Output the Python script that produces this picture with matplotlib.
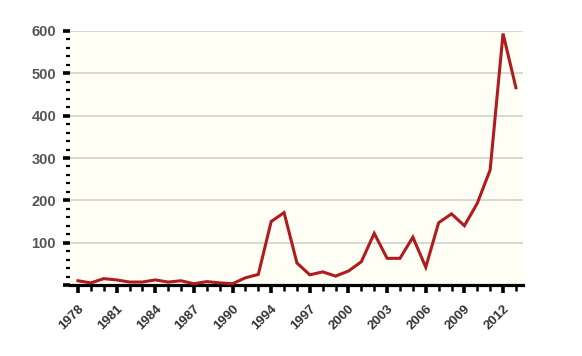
import numpy as np
import matplotlib
matplotlib.use("Agg")
import matplotlib.pyplot as plt
from matplotlib.ticker import MultipleLocator

# years shown on the chart (1991 is absent from the series)
years = list(range(1978, 1991)) + list(range(1992, 2014))
values = [10, 5, 15, 12, 7, 7, 12, 7, 10, 3, 8, 5, 3,
          17, 25, 150, 171, 52, 24, 31, 21, 33, 55, 122,
          63, 63, 113, 42, 147, 168, 140, 193, 272, 594, 466]
y_ticks = [100, 200, 300, 400, 500, 600]

x = np.arange(len(years))

plt.rcParams["font.family"] = ["Liberation Sans", "DejaVu Sans"]

fig = plt.figure(figsize=(5.82, 3.56), dpi=100)
ax = fig.add_axes([70 / 582, 1 - 285 / 356, (523 - 70) / 582, (285 - 31) / 356])
ax.set_facecolor("#fffff6")

for t in y_ticks:
    ax.axhline(t, color="#d6d6d0", lw=1.3, zorder=1)

ax.plot(x, values, color="#b01c1e", lw=2.2, solid_joinstyle="miter", zorder=3)

ax.set_xlim(-0.62, len(years) - 1 + 0.55)
ax.set_ylim(0, 600)

# x axis: every year a tick, every third labelled
ax.set_xticks(x[::3])
ax.set_xticklabels([str(years[i]) for i in x[::3]], rotation=45, ha="right",
                   rotation_mode="anchor", fontsize=9.5, fontweight="bold",
                   color="#333333")
ax.set_xticks(x, minor=True)
ax.tick_params(axis="x", which="major", length=6, width=2.6, color="black", pad=7)
ax.tick_params(axis="x", which="minor", length=4, width=1.8, color="black")

# y axis
ax.set_yticks([0] + y_ticks)
ax.set_yticklabels([""] + [str(t) for t in y_ticks], fontsize=10.5,
                   fontweight="bold", color="#555555")
ax.yaxis.set_minor_locator(MultipleLocator(20))
ax.tick_params(axis="y", which="major", length=5, width=2.6, color="black", pad=5)
ax.tick_params(axis="y", which="minor", length=3, width=1.6, color="black")

for side in ["top", "right", "left"]:
    ax.spines[side].set_visible(False)
ax.spines["bottom"].set_linewidth(2.3)
ax.spines["bottom"].set_color("black")

fig.savefig("out.png", dpi=100, facecolor="white")
